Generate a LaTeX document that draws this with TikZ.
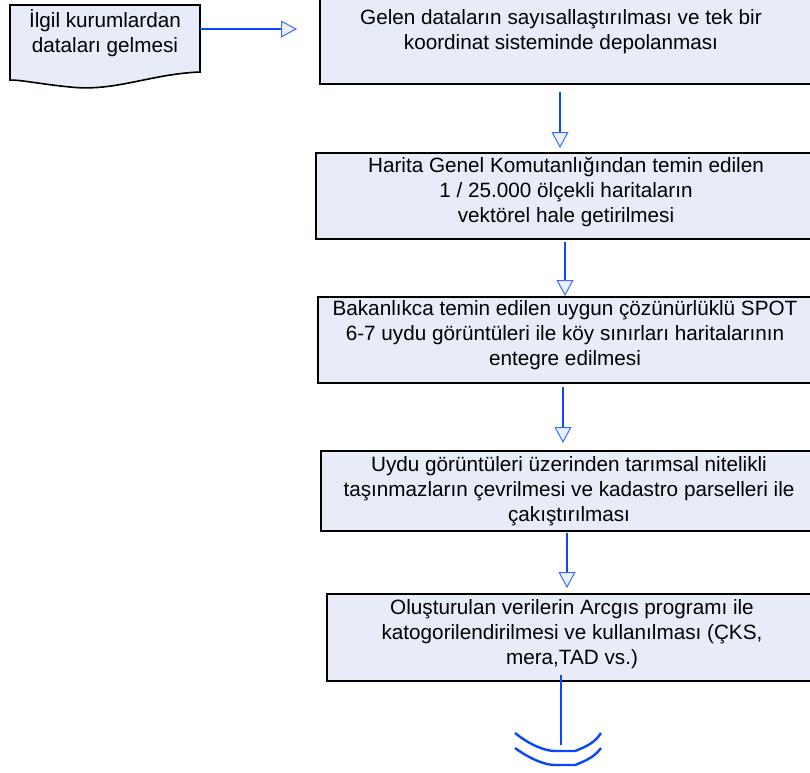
\documentclass[tikz,border=0pt]{standalone}
\usepackage{fontspec}
\setmainfont{Liberation Sans}
\usetikzlibrary{arrows.meta,calc}
\definecolor{boxfill}{RGB}{232,236,248}
\definecolor{lineblue}{RGB}{10,70,255}
\definecolor{tipblue}{RGB}{60,110,255}
\definecolor{tipfill}{RGB}{236,240,252}
\begin{document}
\begin{tikzpicture}[x=1pt,y=-1pt,
  box/.style={draw=black,line width=1.6pt,fill=boxfill,inner sep=0pt,outer sep=0pt,anchor=north west},
  txt/.style={align=center,inner sep=0pt,anchor=north,font=\fontsize{20.7}{25}\selectfont},
  arr/.style={draw=lineblue,line width=2.8pt,-{Triangle[length=16pt,width=17pt,fill=tipfill,color=tipblue,line width=1pt]}},
  wave/.style={draw=lineblue,line width=2.4pt}]
\useasboundingbox (0,0) rectangle (810,772);
% document shape
\draw[line width=1.6pt,fill=boxfill] (10,5) -- (200,5) -- (200,72)
  .. controls (150,74) and (115,92) .. (70,87)
  .. controls (40,84) and (22,80) .. (10,80) -- cycle;
\node[txt] (doc) at (105,9) {İlgil kurumlardan\\dataları gelmesi};
\coordinate (docR) at (200,29);
% boxes
\node[box,minimum width=495pt,minimum height=86pt] (b1) at (320,-2) {};
\node[box,minimum width=499pt,minimum height=86pt] (b2) at (316,153) {};
\node[box,minimum width=497pt,minimum height=86pt] (b3) at (318,297) {};
\node[box,minimum width=494pt,minimum height=80pt] (b4) at (321,451) {};
\node[box,minimum width=488pt,minimum height=87pt] (b5) at (327,594) {};
% texts
\node[txt] (t1) at (561,9.5) {Gelen dataların sayısallaştırılması ve tek bir\\koordinat sisteminde depolanması};
\node[txt] (t2) at (566,157) {Harita Genel Komutanlığından temin edilen\\1 / 25.000 ölçekli haritaların\\vektörel hale getirilmesi};
\node[txt] (t3) at (565,300) {Bakanlıkca temin edilen uygun çözünürlüklü SPOT\\6-7 uydu görüntüleri ile köy sınırları haritalarının\\entegre edilmesi};
\node[txt] (t4) at (569,456) {Uydu görüntüleri üzerinden tarımsal nitelikli\\taşınmazların çevrilmesi ve kadastro parselleri ile\\çakıştırılması};
\node[txt] (t5) at (572,599) {Oluşturulan verilerin Arcgıs programı ile\\katogorilendirilmesi ve kullanılması (ÇKS,\\mera,TAD vs.)};
% connectors
\draw[arr,shorten >=23pt] (docR) -- (docR -| b1.west);
\draw[arr,shorten <=8pt,shorten >=5pt] ([xshift=-7.5pt]b1.south) -- ([xshift=-5.5pt]b2.north);
\draw[arr,shorten <=3pt,shorten >=1pt] ([xshift=-0.5pt]b2.south) -- ([xshift=-1.5pt]b3.north);
\draw[arr,shorten <=4pt,shorten >=8pt] ([xshift=-3.5pt]b3.south) -- ([xshift=-5pt]b4.north);
\draw[arr,shorten <=2pt,shorten >=6pt] ([xshift=-1pt]b4.south) -- ([xshift=-4pt]b5.north);
\coordinate (conn) at (561,745);
\draw[wave] ([xshift=-10pt,yshift=6pt]b5.south) -- (conn);
\draw[wave] (515,733) .. controls (530,745) and (545,751) .. (555,751) -- (575,751) .. controls (588,746) and (595,742) .. (601,733);
\draw[wave] (515,748) .. controls (530,759) and (545,765) .. (555,765) -- (575,765) .. controls (588,760) and (595,756) .. (601,748);
\end{tikzpicture}
\end{document}
